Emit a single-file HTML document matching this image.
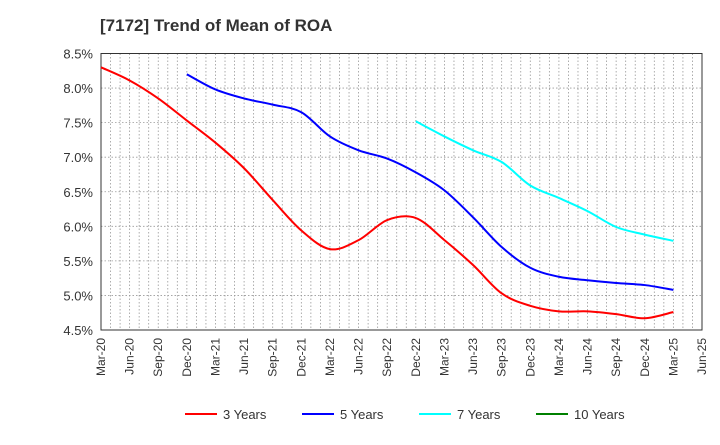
<!DOCTYPE html>
<html><head><meta charset="utf-8"><style>
body{margin:0;background:#fff;font-family:"Liberation Sans",sans-serif}
svg text{font-family:"Liberation Sans",sans-serif}
</style></head><body>
<svg id="c" width="720" height="440" xmlns="http://www.w3.org/2000/svg">
<text x="100" y="31" font-size="17" font-weight="bold" fill="#333">[7172]  Trend of Mean of ROA</text>
<g id="grid"></g><g id="axes"></g><g id="series"></g><g id="legend"></g>
</svg>
<script>
const xLabels=["Mar-20","Jun-20","Sep-20","Dec-20","Mar-21","Jun-21","Sep-21","Dec-21","Mar-22","Jun-22","Sep-22","Dec-22","Mar-23","Jun-23","Sep-23","Dec-23","Mar-24","Jun-24","Sep-24","Dec-24","Mar-25","Jun-25"];
const yTicks=[4.5,5.0,5.5,6.0,6.5,7.0,7.5,8.0,8.5];
const years3=[8.30,8.11,7.85,7.53,7.21,6.84,6.38,5.94,5.67,5.80,6.09,6.12,5.80,5.44,5.03,4.85,4.77,4.77,4.73,4.67,4.76];
const years5=[8.20,7.98,7.85,7.76,7.65,7.30,7.10,6.98,6.78,6.52,6.13,5.70,5.40,5.27,5.22,5.18,5.15,5.08];
const years7=[7.52,7.30,7.10,6.93,6.59,6.41,6.22,5.99,5.88,5.79];
const years10=[];
const start3=0,start5=3,start7=11,start10=20;
const L=101,R=702,T=53.5,B=330;
const NS="http://www.w3.org/2000/svg";
const xq=q=>L+q*(R-L)/21;
const y=v=>B-(v-4.5)/4*(B-T);
function mk(tag,at,parent){const e=document.createElementNS(NS,tag);for(const k in at)e.setAttribute(k,at[k]);parent.appendChild(e);return e;}
const grid=document.getElementById('grid'),axes=document.getElementById('axes'),series=document.getElementById('series'),legend=document.getElementById('legend');
for(let m=1;m<63;m++){const x=L+m*(R-L)/63;const l=mk('line',{x1:x,x2:x,y1:T,y2:B,stroke:'#999','stroke-dasharray':'1.5,2','stroke-width':0.8},grid);

}
yTicks.forEach(v=>{const l=mk('line',{x1:L,x2:R,y1:y(v),y2:y(v),stroke:'#999','stroke-dasharray':'1.5,2','stroke-width':0.8},grid);


const t=mk('text',{x:L-8,y:y(v)+5,'text-anchor':'end','font-size':13,fill:'#333'},axes);t.textContent=v.toFixed(1)+'%';

});
const fr=mk('rect',{x:L,y:T,width:R-L,height:B-T,fill:'none',stroke:'#333','stroke-width':1},axes);


xLabels.forEach((s,i)=>{const x=xq(i);const t=mk('text',{x:x+4,y:B+8,'text-anchor':'end','font-size':12,fill:'#333',transform:`rotate(-90 ${x+4} ${B+8})`},axes);t.textContent=s;

});
function path(vals,s){const p=vals.map((v,i)=>[xq(s+i),y(v)]);if(!p.length)return '';let d=`M${p[0][0]},${p[0][1]}`;
for(let i=0;i<p.length-1;i++){const p0=p[i-1]||p[i],p1=p[i],p2=p[i+1],p3=p[i+2]||p2;
d+=` C${p1[0]+(p2[0]-p0[0])/6},${p1[1]+(p2[1]-p0[1])/6} ${p2[0]-(p3[0]-p1[0])/6},${p2[1]-(p3[1]-p1[1])/6} ${p2[0]},${p2[1]}`;}return d;}
[[years3,start3,'#ff0000','line-3-years'],[years5,start5,'#0000ff','line-5-years'],[years7,start7,'#00ffff','line-7-years'],[years10,start10,'#008000','line-10-years']].forEach(([v,s,c,n])=>{
if(!v.length)return;const e=mk('path',{d:path(v,s),fill:'none',stroke:c,'stroke-width':2},series);

});
[['3 Years','#ff0000',185],['5 Years','#0000ff',302],['7 Years','#00ffff',419],['10 Years','#008000',536]].forEach(([lab,c,x])=>{
const l=mk('line',{x1:x,x2:x+32,y1:414,y2:414,stroke:c,'stroke-width':2},legend);


const t=mk('text',{x:x+38,y:419,'font-size':13,fill:'#333'},legend);t.textContent=lab;

});
</script>
</body></html>
